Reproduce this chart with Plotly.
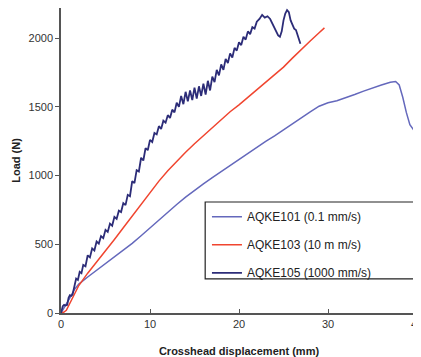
import plotly.graph_objects as go

# AQKE101 (0.1 mm/s)
x_101 = [0, 0.5, 1.0, 1.5, 2.0, 3, 4, 5, 6, 7, 8, 9, 10, 11, 12, 13, 14, 15, 16, 17, 18, 19, 20,
         21, 22, 23, 24, 25, 26, 27, 28, 29, 30, 31, 32, 33, 34, 35, 36, 37, 37.6, 38.0, 38.4,
         38.8, 39.2, 39.6, 40]
y_101 = [0, 50, 110, 170, 210, 262, 310, 357, 405, 455, 507, 562, 620, 678, 735, 790, 843, 893,
         940, 985, 1030, 1076, 1120, 1163, 1206, 1250, 1290, 1335, 1380, 1420, 1464, 1505, 1530,
         1545, 1565, 1590, 1615, 1640, 1660, 1680, 1685, 1660, 1570, 1460, 1370, 1335, 1325]

# AQKE103 (10 mm/s)
x_103 = [0, 0.3, 0.6, 1.0, 1.5, 2, 3, 4, 5, 6, 7, 8, 9, 10, 11, 12, 13, 14, 15, 16, 17, 18, 19,
         20, 21, 22, 23, 24, 25, 26, 27, 28, 29, 29.6]
y_103 = [0, 5, 20, 70, 140, 200, 290, 370, 450, 535, 620, 705, 790, 875, 960, 1035, 1105, 1170,
         1232, 1290, 1345, 1405, 1465, 1515, 1570, 1625, 1680, 1730, 1790, 1855, 1920, 1980,
         2040, 2075]

# AQKE105 (1000 mm/s)
x_105 = [0, 0.2, 0.35, 0.5, 0.7, 0.85, 1.0, 1.15, 1.3, 1.5, 1.7, 1.9, 2.1, 2.3, 2.5, 2.75, 3.0,
         3.25, 3.5, 3.75, 4.0, 4.25, 4.5, 4.75, 5.0, 5.25, 5.5, 5.75, 6.0, 6.25, 6.5, 6.75, 7.0,
         7.25, 7.5, 7.75, 8.0, 8.25, 8.5, 8.75, 9.0, 9.25, 9.5, 9.75, 10.0, 10.25, 10.5, 10.75,
         11.0, 11.25, 11.5, 11.75, 12.0, 12.25, 12.5, 12.75, 13.0, 13.25, 13.5, 13.75, 14.0,
         14.25, 14.5, 14.75, 15.0, 15.25, 15.5, 15.75, 16.0, 16.25, 16.5, 16.75, 17.0, 17.25,
         17.5, 17.75, 18.0, 18.25, 18.5, 18.75, 19.0, 19.25, 19.5, 19.75, 20.0, 20.25, 20.5,
         20.75, 21.0, 21.25, 21.5, 21.75, 22.0, 22.3, 22.6, 22.9, 23.2, 23.5, 23.8, 24.1, 24.4,
         24.6, 24.8, 25.0, 25.2, 25.4, 25.6, 25.8, 26.0, 26.2, 26.4, 26.6, 26.8, 26.9]
y_105 = [0, 50, 60, 55, 60, 110, 130, 125, 135, 200, 250, 240, 300, 290, 350, 340, 420, 405,
         470, 455, 520, 505, 560, 545, 605, 590, 650, 635, 700, 685, 745, 735, 800, 785, 860,
         850, 960, 945, 1040, 1030, 1130, 1110, 1200, 1185, 1260, 1245, 1310, 1300, 1360, 1340,
         1400, 1385, 1440, 1420, 1480, 1460, 1530, 1500, 1580, 1520, 1610, 1540, 1620, 1550,
         1640, 1560, 1650, 1580, 1670, 1590, 1690, 1620, 1720, 1680, 1770, 1730, 1810, 1770,
         1850, 1820, 1890, 1860, 1930, 1910, 1970, 1950, 2010, 1990, 2050, 2030, 2080, 2070,
         2120, 2140, 2170, 2150, 2160, 2140, 2100, 2060, 2020, 2010, 2050, 2130, 2180, 2205,
         2190, 2130, 2100, 2070, 2060, 2020, 1980, 1960]

names = ["AQKE101 (0.1 mm/s)", "AQKE103 (10 m m/s)", "AQKE105 (1000 mm/s)"]
colors = ["#6468bc", "#f0452f", "#2c2c78"]

x_ticks = [0, 10, 20, 30, 40]
y_ticks = [0, 500, 1000, 1500, 2000]

FONT = "Liberation Sans, Arial, sans-serif"

fig = go.Figure()
for i, (xs, ys) in enumerate([(x_101, y_101), (x_103, y_103), (x_105, y_105)]):
    fig.add_trace(go.Scatter(
        x=xs, y=ys, mode="lines", name=names[i], legendgroup=str(i),
        line=dict(color=colors[i], width=1.5 if i < 2 else 1.8)))

# page body adds an 8px offset, so the figure is sized to fill the rest of the window
fig.update_layout(
    width=413, height=349,
    margin=dict(l=53, r=4, t=0, b=44),
    paper_bgcolor="white", plot_bgcolor="white",
    font=dict(family=FONT, size=11, color="#333333"),
    showlegend=True,
    legend=dict(
        x=0.41, y=0.363, xanchor="left", yanchor="top",
        bgcolor="rgba(255,255,255,0)", borderwidth=0,
        font=dict(family=FONT, size=12, color="#222222"),
        traceorder="grouped", tracegroupgap=9, itemwidth=30,
    ),
    shapes=[dict(type="rect", xref="paper", yref="paper",
                 x0=0.405, x1=1.003, y0=0.112, y1=0.364,
                 line=dict(color="#222222", width=1.2), fillcolor="rgba(0,0,0,0)")],
)
fig.update_xaxes(
    range=[0, 40], tickvals=x_ticks, showgrid=False, zeroline=False, automargin=False,
    showline=True, linecolor="#555555", linewidth=1.5, ticklabeloverflow="allow",
    ticks="inside", ticklen=4, tickcolor="#555555",
    title=dict(text="<b>Crosshead displacement (mm)</b>", font=dict(size=11, color="#222222"),
               standoff=18),
)
fig.update_yaxes(
    range=[0, 2220], tickvals=y_ticks, showgrid=False, zeroline=False, automargin=False,
    showline=True, linecolor="#555555", linewidth=1.5,
    ticks="outside", ticklen=4, tickcolor="#555555",
    title=dict(text="<b>Load (N)</b>", font=dict(size=11, color="#222222"), standoff=6),
)

fig.write_html("out.html")
